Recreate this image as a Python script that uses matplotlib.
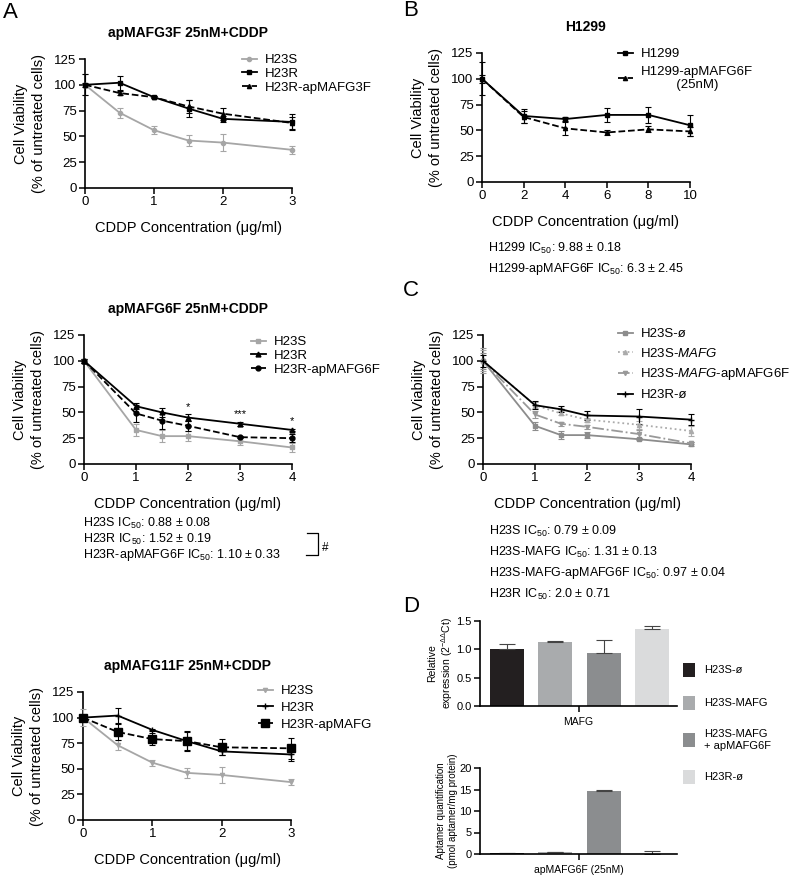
import matplotlib
matplotlib.use("Agg")
import matplotlib.pyplot as plt
from matplotlib.lines import Line2D

plt.rcParams['font.family'] = ['Liberation Sans', 'DejaVu Sans']
plt.rcParams['mathtext.fontset'] = 'custom'
plt.rcParams['mathtext.rm'] = 'Liberation Sans'
plt.rcParams['mathtext.it'] = 'Liberation Sans:italic'
plt.rcParams['axes.linewidth'] = 1.2

W, H = 800, 875

# ---------------- data ----------------
# Panel A, apMAFG3F
a1_x = [0, 0.5, 1, 1.5, 2, 3]
a1_h23s = [100, 73, 56, 46, 44, 37]
a1_h23s_err = [10, 5, 4, 5, 8, 4]
a1_h23r = [100, 102, 88, 77, 67, 64]
a1_h23r_err = [10, 7, 1, 8, 3, 8]
a1_ap = [100, 92, 88, 79, 72, 63]
a1_ap_err = [2, 2, 1, 6, 6, 6]

# Panel A, apMAFG6F
a2_x = [0, 1, 1.5, 2, 3, 4]
a2_h23s = [100, 33, 27, 27, 22, 16]
a2_h23s_err = [2, 6, 6, 5, 4, 4]
a2_h23r = [100, 56, 50, 45, 39, 33]
a2_h23r_err = [2, 3, 4, 3, 2, 1]
a2_ap = [100, 49, 42, 37, 26, 25]
a2_ap_err = [2, 8, 8, 5, 1, 4]
a2_star_x = [2, 3, 4]
a2_star_y = [50, 44, 37]
a2_star_txt = ['*', '***', '*']
a2_ic50 = ["H23S IC$_{50}$: 0.88 \u00b1 0.08",
           "H23R IC$_{50}$: 1.52 \u00b1 0.19",
           "H23R-apMAFG6F IC$_{50}$: 1.10 \u00b1 0.33"]

# Panel A, apMAFG11F
a3_x = [0, 0.5, 1, 1.5, 2, 3]
a3_h23s = [100, 73, 56, 46, 44, 37]
a3_h23s_err = [8, 5, 3, 5, 8, 3]
a3_h23r = [100, 102, 88, 77, 67, 64]
a3_h23r_err = [0, 7, 1, 9, 4, 6]
a3_ap = [100, 86, 79, 77, 71, 70]
a3_ap_err = [2, 8, 6, 10, 8, 10]

# Panel B, H1299
b_x = [0, 2, 4, 6, 8, 10]
b_h1299 = [100, 64, 61, 65, 65, 55]
b_h1299_err = [4, 7, 2, 7, 8, 10]
b_ap = [100, 63, 52, 48, 51, 49]
b_ap_err = [16, 6, 6, 2, 3, 4]
b_ic50 = ["H1299 IC$_{50}$: 9.88 \u00b1 0.18",
          "H1299-apMAFG6F IC$_{50}$: 6.3 \u00b1 2.45"]

# Panel C
c_x = [0, 1, 1.5, 2, 3, 4]
c_s_empty = [100, 37, 28, 28, 24, 19]
c_s_empty_err = [8, 4, 4, 3, 1, 2]
c_s_mafg = [100, 57, 49, 43, 38, 32]
c_s_mafg_err = [10, 3, 2, 2, 4, 5]
c_s_mafg_ap = [100, 48, 39, 36, 29, 20]
c_s_mafg_ap_err = [12, 3, 2, 2, 4, 1]
c_r_empty = [100, 57, 53, 47, 46, 43]
c_r_empty_err = [6, 4, 3, 4, 7, 5]
c_ic50 = ["H23S IC$_{50}$: 0.79 \u00b1 0.09",
          "H23S-MAFG IC$_{50}$: 1.31 \u00b1 0.13",
          "H23S-MAFG-apMAFG6F IC$_{50}$: 0.97 \u00b1 0.04",
          "H23R IC$_{50}$: 2.0 \u00b1 0.71"]

# Panel D
d_groups = ["H23S-\u00f8", "H23S-MAFG", "H23S-MAFG\n+ apMAFG6F", "H23R-\u00f8"]
d_colors = ['#231f20', '#a9abad', '#8b8d8f', '#dadbdc']
d_expr = [1.01, 1.13, 0.93, 1.36]
d_expr_err = [0.08, 0.01, 0.23, 0.05]
d_apt = [0.2, 0.4, 14.7, 0.05]
d_apt_err = [0.05, 0.1, 0.1, 0.55]

VIAB_LABEL = "Cell Viability\n(% of untreated cells)"
CDDP_LABEL = "CDDP Concentration (\u03bcg/ml)"

FS_TICK = 9.5
FS_LABEL = 10.5
FS_TITLE = 10
FS_LEG = 9.5
FS_IC50 = 9
FS_D = 7.5


def rect(x0, y_bottom, x1, y_top):
    return [x0 / W, 1 - y_bottom / H, (x1 - x0) / W, (y_bottom - y_top) / H]


def fx(x):
    return x / W


def fy(y):
    return 1 - y / H


def style_axes(ax, xticks, fs=FS_TICK):
    ax.spines['top'].set_visible(False)
    ax.spines['right'].set_visible(False)
    ax.tick_params(direction='out', length=4, width=1.1, labelsize=fs, pad=2)
    ax.set_xticks(xticks)


def viab_axes(fig, r, xmax, xticks):
    ax = fig.add_axes(r)
    ax.set_xlim(0, xmax)
    ax.set_ylim(0, 125)
    ax.set_yticks([0, 25, 50, 75, 100, 125])
    style_axes(ax, xticks)
    ax.set_xlabel(CDDP_LABEL, fontsize=FS_LABEL, labelpad=9)
    ax.set_ylabel(VIAB_LABEL, fontsize=FS_LABEL, labelpad=6, linespacing=1.4)
    return ax


def curve(ax, x, y, err, color, ls, marker, label, ms=3.5):
    ax.errorbar(x, y, yerr=err, color=color, ls=ls, marker=marker, ms=ms,
                lw=1.3, elinewidth=0.8, capsize=2.5, capthick=0.8,
                label=label, clip_on=False, zorder=3)


def add_legend(ax, x, y, spacing=0.25, fs=FS_LEG):
    handles, labels = ax.get_legend_handles_labels()
    # show only the line and marker of each errorbar series
    handles = [h[0] if hasattr(h, 'lines') else h for h in handles]
    ax.legend(handles, labels, loc='upper left', bbox_to_anchor=(fx(x), fy(y)),
              bbox_transform=ax.figure.transFigure, frameon=False, fontsize=fs,
              handlelength=1.1, handletextpad=0.6, labelspacing=spacing,
              borderpad=0, borderaxespad=0)


fig = plt.figure(figsize=(8, 8.75), dpi=100)

GREY = '#a6a6a6'
TITLE_PAD = 16

# ---- A top ----
ax = viab_axes(fig, rect(85, 188, 292, 59), 3, [0, 1, 2, 3])
curve(ax, a1_x, a1_h23s, a1_h23s_err, GREY, '-', 'o', 'H23S', ms=3)
curve(ax, a1_x, a1_h23r, a1_h23r_err, 'black', '-', 's', 'H23R')
curve(ax, a1_x, a1_ap, a1_ap_err, 'black', '--', '^', 'H23R-apMAFG3F', ms=3)
ax.set_title("apMAFG3F 25nM+CDDP", fontsize=FS_TITLE, fontweight='bold', pad=TITLE_PAD)
add_legend(ax, 242, 54, spacing=0.12)

# ---- A middle ----
ax = viab_axes(fig, rect(84, 464, 292, 335), 4, [0, 1, 2, 3, 4])
curve(ax, a2_x, a2_h23s, a2_h23s_err, GREY, '-', 's', 'H23S')
curve(ax, a2_x, a2_h23r, a2_h23r_err, 'black', '-', '^', 'H23R')
curve(ax, a2_x, a2_ap, a2_ap_err, 'black', '--', 'o', 'H23R-apMAFG6F')
for sx, sy, st in zip(a2_star_x, a2_star_y, a2_star_txt):
    ax.text(sx, sy, st, ha='center', va='bottom', fontsize=8)
ax.set_title("apMAFG6F 25nM+CDDP", fontsize=FS_TITLE, fontweight='bold', pad=TITLE_PAD)
add_legend(ax, 251, 336, spacing=0.12)
for i, t in enumerate(a2_ic50):
    fig.text(fx(83), fy(523 + 16 * i), t, fontsize=FS_IC50, va='center')
# bracket with '#'
fig.add_artist(Line2D([fx(307), fx(318), fx(318), fx(306)],
                      [fy(533), fy(533), fy(555), fy(555)], color='black', lw=0.9))
fig.text(fx(322), fy(548), "#", fontsize=8.5, va='center')

# ---- A bottom ----
ax = viab_axes(fig, rect(83, 820, 291, 692), 3, [0, 1, 2, 3])
curve(ax, a3_x, a3_h23s, a3_h23s_err, GREY, '-', 'v', 'H23S', ms=3)
curve(ax, a3_x, a3_h23r, a3_h23r_err, 'black', '-', '+', 'H23R', ms=4)
curve(ax, a3_x, a3_ap, a3_ap_err, 'black', '--', 's', 'H23R-apMAFG', ms=6)
ax.set_title("apMAFG11F 25nM+CDDP", fontsize=FS_TITLE, fontweight='bold', pad=TITLE_PAD)
add_legend(ax, 258, 685, spacing=0.35)

# ---- B ----
ax = viab_axes(fig, rect(482, 182, 690, 53), 10, [0, 2, 4, 6, 8, 10])
curve(ax, b_x, b_h1299, b_h1299_err, 'black', '-', 's', 'H1299')
curve(ax, b_x, b_ap, b_ap_err, 'black', '--', '^', 'H1299-apMAFG6F\n          (25nM)', ms=3)
ax.set_title("H1299", fontsize=FS_TITLE, fontweight='bold', pad=TITLE_PAD)
add_legend(ax, 618, 48, spacing=0.4)
for i, t in enumerate(b_ic50):
    fig.text(fx(488), fy(248 + 21 * i), t, fontsize=FS_IC50, va='center')

# ---- C ----
ax = viab_axes(fig, rect(483, 464, 691, 335), 4, [0, 1, 2, 3, 4])
curve(ax, c_x, c_s_empty, c_s_empty_err, '#8c8c8c', '-', 's', 'H23S-\u00f8')
curve(ax, c_x, c_s_mafg, c_s_mafg_err, '#ababab', ':', '^', 'H23S-$\\mathit{MAFG}$', ms=3)
curve(ax, c_x, c_s_mafg_ap, c_s_mafg_ap_err, '#999999', '-.', 'v', 'H23S-$\\mathit{MAFG}$-apMAFG6F', ms=3)
curve(ax, c_x, c_r_empty, c_r_empty_err, 'black', '-', '+', 'H23R-\u00f8', ms=4)
add_legend(ax, 618, 328, spacing=0.5)
for i, t in enumerate(c_ic50):
    fig.text(fx(489), fy(531 + 21 * i), t, fontsize=FS_IC50, va='center')

# ---- D ----
pos = range(len(d_groups))
axt = fig.add_axes(rect(480, 706, 677, 621))
axt.bar(pos, d_expr, width=0.7, color=d_colors, label=d_groups)
axt.errorbar(pos, d_expr, yerr=[[0] * 4, d_expr_err], fmt='none', ecolor='#444444',
             elinewidth=0.8, capsize=6, capthick=0.8)
axt.set_xlim(-0.56, 3.52)
axt.set_ylim(0, 1.5)
axt.set_yticks([0, 0.5, 1.0, 1.5])
axt.set_yticklabels(["0.0", "0.5", "1.0", "1.5"])
style_axes(axt, [1.5], fs=8)
axt.set_xticklabels([""])
axt.set_xlabel("MAFG", fontsize=FS_D, labelpad=2)
axt.set_ylabel("Relative\nexpression (2$^{-\\Delta\\Delta}$Ct)", fontsize=FS_D, labelpad=1)

axb = fig.add_axes(rect(480, 854, 677, 768))
axb.bar(pos, d_apt, width=0.7, color=d_colors)
axb.errorbar(pos, d_apt, yerr=[[0] * 4, d_apt_err], fmt='none', ecolor='#444444',
             elinewidth=0.8, capsize=6, capthick=0.8)
axb.set_xlim(-0.56, 3.52)
axb.set_ylim(0, 20)
axb.set_yticks([0, 5, 10, 15, 20])
style_axes(axb, [1.5], fs=8)
axb.set_xticklabels([""])
axb.set_xlabel("apMAFG6F (25nM)", fontsize=FS_D, labelpad=2)
axb.set_ylabel("Aptamer quantification\n(pmol aptamer/mg protein)", fontsize=7, labelpad=1)

handles, labels = axt.get_legend_handles_labels()
fig.legend(handles, labels, loc='upper left', bbox_to_anchor=(fx(683), fy(663)),
           frameon=False, fontsize=8, handlelength=1.1, handleheight=1.5,
           handletextpad=0.8, labelspacing=1.75, borderpad=0, borderaxespad=0)

# panel letters
for letter, x, y in [("A", 3, 12), ("B", 403, 10), ("C", 403, 290), ("D", 403, 607)]:
    fig.text(fx(x), fy(y), letter, fontsize=16, va='center', ha='left')

fig.savefig("out.png", dpi=100)
